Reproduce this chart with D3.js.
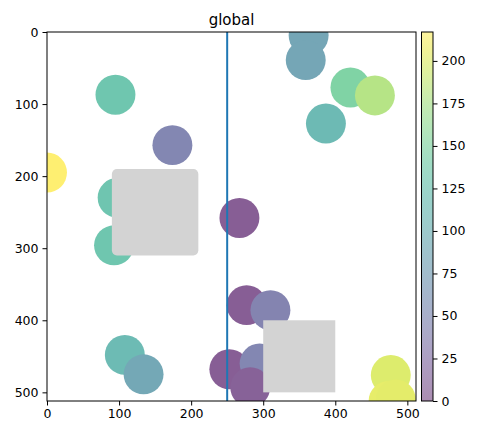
<!DOCTYPE html>
<html>
<head>
<meta charset="utf-8">
<script src="https://cdn.jsdelivr.net/npm/d3@7"></script>
<style>
  body { margin: 0; background: #fff; }
  svg { font-family: "DejaVu Sans", sans-serif; }
</style>
</head>
<body>
<svg id="chart" width="479" height="435"></svg>
<script>
// scatter points (data coords, y grows downward) and colour values
const PX = [0, 95, 174, 98, 93, 267, 363, 359, 421, 455, 387, 277, 310, 253, 295, 282, 108, 134, 477, 474, 484];
const PY = [195, 87, 157, 230, 296, 258, 5, 39, 77, 88, 127, 379, 386, 468, 460, 493, 448, 475, 476, 512, 510];
const PV = [217, 130, 45, 128, 130, 5, 85, 85, 148, 180, 113, 5, 42, 5, 45, 8, 115, 88, 200, 205, 203];
const POINT_R = 27.7;

const AXIS_TICKS = [0, 100, 200, 300, 400, 500];
const CBAR_TICKS = [0, 25, 50, 75, 100, 125, 150, 175, 200];
const VMAX = 217;

// boxes: [x0, y0, x1, y1, rounding]
const BOXES = [[90, 190, 210, 310, 7], [300, 400, 400, 500, 0]];
const VLINE_X = 250;

var svg = d3.select("#chart");
var pLeft = 47, pRight = 416, pTop = 32, pBottom = 401;

var x = d3.scaleLinear().domain([0, 512]).range([pLeft, pRight]);
var y = d3.scaleLinear().domain([0, 512]).range([pTop, pBottom]);

// faded viridis, like alpha over white
function col(v, a) {
  return d3.interpolateRgb("#ffffff", d3.interpolateViridis(v / VMAX))(a);
}

var defs = svg.append("defs");
defs.append("clipPath").attr("id", "clip")
  .append("rect")
  .attr("x", pLeft).attr("y", pTop)
  .attr("width", pRight - pLeft).attr("height", pBottom - pTop);

var plot = svg.append("g").attr("clip-path", "url(#clip)");

var pts = PX.map(function(d, i) { return {x: d, y: PY[i], v: PV[i]}; });
plot.selectAll("circle")
  .data(pts)
  .enter()
  .append("circle")
    .attr("cx", function(d) { return x(d.x); })
    .attr("cy", function(d) { return y(d.y); })
    .attr("r", x(POINT_R) - x(0))
    .style("fill", function(d) { return col(d.v, 0.65); });

plot.selectAll("rect.box")
  .data(BOXES)
  .enter()
  .append("rect")
    .attr("class", "box")
    .attr("x", function(d) { return x(d[0]); })
    .attr("y", function(d) { return y(d[1]); })
    .attr("width", function(d) { return x(d[2]) - x(d[0]); })
    .attr("height", function(d) { return y(d[3]) - y(d[1]); })
    .attr("rx", function(d) { return x(d[4]) - x(0); })
    .style("fill", "#d3d3d3");

plot.append("line")
  .attr("x1", x(VLINE_X)).attr("x2", x(VLINE_X))
  .attr("y1", pTop).attr("y2", pBottom)
  .attr("stroke", "#1f77b4")
  .style("stroke-width", 2);

/********* axes ***********/
var xAxis = svg.append("g")
  .attr("transform", "translate(0," + pBottom + ")")
  .call(d3.axisBottom(x).tickValues(AXIS_TICKS).tickSize(4.5).tickPadding(4));
var yAxis = svg.append("g")
  .attr("transform", "translate(" + pLeft + ",0)")
  .call(d3.axisLeft(y).tickValues(AXIS_TICKS).tickSize(4.5).tickPadding(4));

[xAxis, yAxis].forEach(function(g) {
  g.select(".domain").remove();
  g.selectAll("text").style("font-size", "12.5px").style("font-family", "DejaVu Sans").attr("fill", "#000");
  g.selectAll("line").attr("stroke", "#000");
});

svg.append("rect")
  .attr("x", pLeft).attr("y", pTop)
  .attr("width", pRight - pLeft).attr("height", pBottom - pTop)
  .style("fill", "none").attr("stroke", "#000").style("stroke-width", 1);

svg.append("text")
  .attr("x", (pLeft + pRight) / 2)
  .attr("y", 25)
  .style("text-anchor", "middle")
  .style("font-size", "15px")
  .attr("fill", "#000")
  .text("global");

/********* colorbar ***********/
var cbLeft = 421.5, cbRight = 433;
var c = d3.scaleLinear().domain([0, VMAX]).range([pBottom, pTop]);

var grad = defs.append("linearGradient")
  .attr("id", "cbgrad")
  .attr("x1", 0).attr("x2", 0).attr("y1", 1).attr("y2", 0);
d3.range(0, 1.0001, 0.05).forEach(function(t) {
  grad.append("stop").attr("offset", t).attr("stop-color", col(t * VMAX, 0.45));
});

svg.append("rect")
  .attr("x", cbLeft).attr("y", pTop)
  .attr("width", cbRight - cbLeft).attr("height", pBottom - pTop)
  .style("fill", "url(#cbgrad)")
  .attr("stroke", "#000").style("stroke-width", 1);

var cAxis = svg.append("g")
  .attr("transform", "translate(" + cbRight + ",0)")
  .call(d3.axisRight(c).tickValues(CBAR_TICKS).tickSize(4.5).tickPadding(4));
cAxis.select(".domain").remove();
cAxis.selectAll("text").style("font-size", "12.5px").style("font-family", "DejaVu Sans").attr("fill", "#000");
cAxis.selectAll("line").attr("stroke", "#000");
</script>
</body>
</html>
